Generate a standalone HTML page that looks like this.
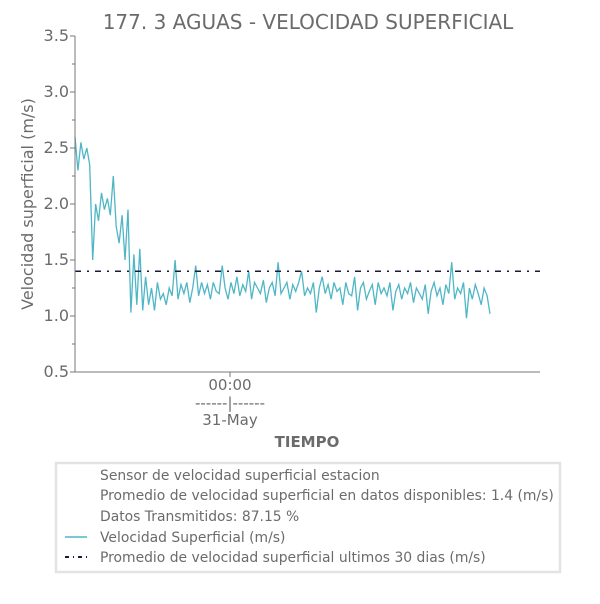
<!DOCTYPE html>
<html><head><meta charset="utf-8"><style>
body{margin:0;background:#fff;font-family:"DejaVu Sans","Liberation Sans",sans-serif;}
svg text{font-family:"DejaVu Sans","Liberation Sans",sans-serif;fill:#6b6b6b;}
</style></head><body>
<svg width="600" height="600" viewBox="0 0 600 600">
<text x="308" y="29" font-size="20" text-anchor="middle">177. 3 AGUAS - VELOCIDAD SUPERFICIAL</text>
<g id="yaxis"></g>
<g id="series"></g>
<line x1="75" y1="36" x2="75" y2="372" stroke="#777" stroke-width="1"/>
<line x1="75" y1="372" x2="540" y2="372" stroke="#777" stroke-width="1"/>
<line x1="230" y1="372" x2="230" y2="377" stroke="#777"/>
<text x="230" y="390" font-size="15" text-anchor="middle">00:00</text>
<text x="230" y="408" font-size="15" text-anchor="middle">------|------</text>
<text x="230" y="425" font-size="15" text-anchor="middle">31-May</text>
<text x="307" y="447" font-size="15" font-weight="bold" text-anchor="middle">TIEMPO</text>
<text transform="translate(33,204) rotate(-90)" font-size="16" text-anchor="middle">Velocidad superficial (m/s)</text>
<g>
<rect x="56" y="463" width="504" height="109" fill="#fff" stroke="#e3e3e3" stroke-width="2.5"/>
<text x="100" y="480" font-size="13.9">Sensor de velocidad superficial estacion</text>
<text x="100" y="500" font-size="13.9">Promedio de velocidad superficial en datos disponibles: 1.4 (m/s)</text>
<text x="100" y="521" font-size="13.9">Datos Transmitidos: 87.15 %</text>
<line x1="65" y1="537" x2="87" y2="537" stroke="#4fb6c6" stroke-width="1.5"/>
<text x="100" y="542" font-size="13.9">Velocidad Superficial (m/s)</text>
<line x1="65" y1="557" x2="87" y2="557" stroke="#1a1a3a" stroke-width="2" stroke-dasharray="4,4,1,4"/>
<text x="100" y="562" font-size="13.9">Promedio de velocidad superficial ultimos 30 dias (m/s)</text>
</g>
</svg>
<script>
const yTicks=[0.5,1.0,1.5,2.0,2.5,3.0,3.5];
const yTickLabels=["0.5","1.0","1.5","2.0","2.5","3.0","3.5"];
const avg30=[1.4];
const velocity=[2.6,2.3,2.55,2.4,2.5,2.35,1.5,2.0,1.85,2.1,1.95,2.05,1.9,2.25,1.8,1.65,1.9,1.5,1.95,1.03,1.55,1.1,1.6,1.05,1.35,
1.1,1.25,1.05,1.3,1.15,1.2,1.1,1.25,1.18,1.5,1.15,1.28,1.2,1.3,1.12,1.25,1.45,1.18,1.3,1.2,1.28,1.15,1.3,1.22,1.2,1.45,1.25,1.15,1.3,1.2,
1.35,1.18,1.28,1.22,1.4,1.15,1.3,1.25,1.2,1.32,1.12,1.25,1.3,1.18,1.48,1.2,1.25,1.3,1.15,1.28,1.22,1.3,1.4,1.18,1.25,1.2,1.3,1.03,1.25,1.35,
1.2,1.28,1.15,1.3,1.22,1.25,1.1,1.3,1.2,1.18,1.35,1.05,1.25,1.3,1.15,1.22,1.28,1.1,1.3,1.2,1.25,1.18,1.3,1.05,1.22,1.28,1.15,1.25,1.2,1.3,
1.12,1.25,1.2,1.15,1.28,1.02,1.22,1.3,1.18,1.25,1.1,1.28,1.2,1.48,1.15,1.25,1.2,1.3,0.98,1.25,1.15,1.28,1.2,1.1,1.25,1.18,1.02];
const X0=75,X1=540,XD0=75,XD1=490,Y0=372,Y1=36,VMIN=0.5,VMAX=3.5;
function yScale(v){return Y0-(v-VMIN)/(VMAX-VMIN)*(Y0-Y1);}
function xScale(i){return XD0+i/(velocity.length-1)*(XD1-XD0);}
const NS="http://www.w3.org/2000/svg";
const ya=document.getElementById('yaxis');
yTicks.forEach((t,i)=>{
 const l=document.createElementNS(NS,'line');
 l.setAttribute('x1',70);l.setAttribute('x2',75);l.setAttribute('y1',yScale(t));l.setAttribute('y2',yScale(t));l.setAttribute('stroke','#777');
 
 
 ya.appendChild(l);
 if(i<yTicks.length-1){const m=document.createElementNS(NS,'line');const ym=yScale(t+0.25);
 m.setAttribute('x1',72);m.setAttribute('x2',75);m.setAttribute('y1',ym);m.setAttribute('y2',ym);m.setAttribute('stroke','#777');
 
 
 ya.appendChild(m);}
 const tx=document.createElementNS(NS,'text');
 tx.setAttribute('x',69);tx.setAttribute('y',yScale(t)+5);tx.setAttribute('font-size','16');tx.setAttribute('text-anchor','end');
 tx.textContent=yTickLabels[i];
 
 
 ya.appendChild(tx);
});
const sg=document.getElementById('series');
const p=document.createElementNS(NS,'polyline');
p.setAttribute('points',velocity.map((v,i)=>xScale(i).toFixed(1)+','+yScale(v).toFixed(1)).join(' '));
p.setAttribute('fill','none');p.setAttribute('stroke','#4fb6c6');p.setAttribute('stroke-width','1.3');


sg.appendChild(p);
const a=document.createElementNS(NS,'line');
a.setAttribute('x1',X0);a.setAttribute('x2',X1);a.setAttribute('y1',yScale(avg30[0]));a.setAttribute('y2',yScale(avg30[0]));
a.setAttribute('stroke','#1a1a3a');a.setAttribute('stroke-width','1.5');a.setAttribute('stroke-dasharray','6,6,2,6');


sg.appendChild(a);
</script>
</body></html>
